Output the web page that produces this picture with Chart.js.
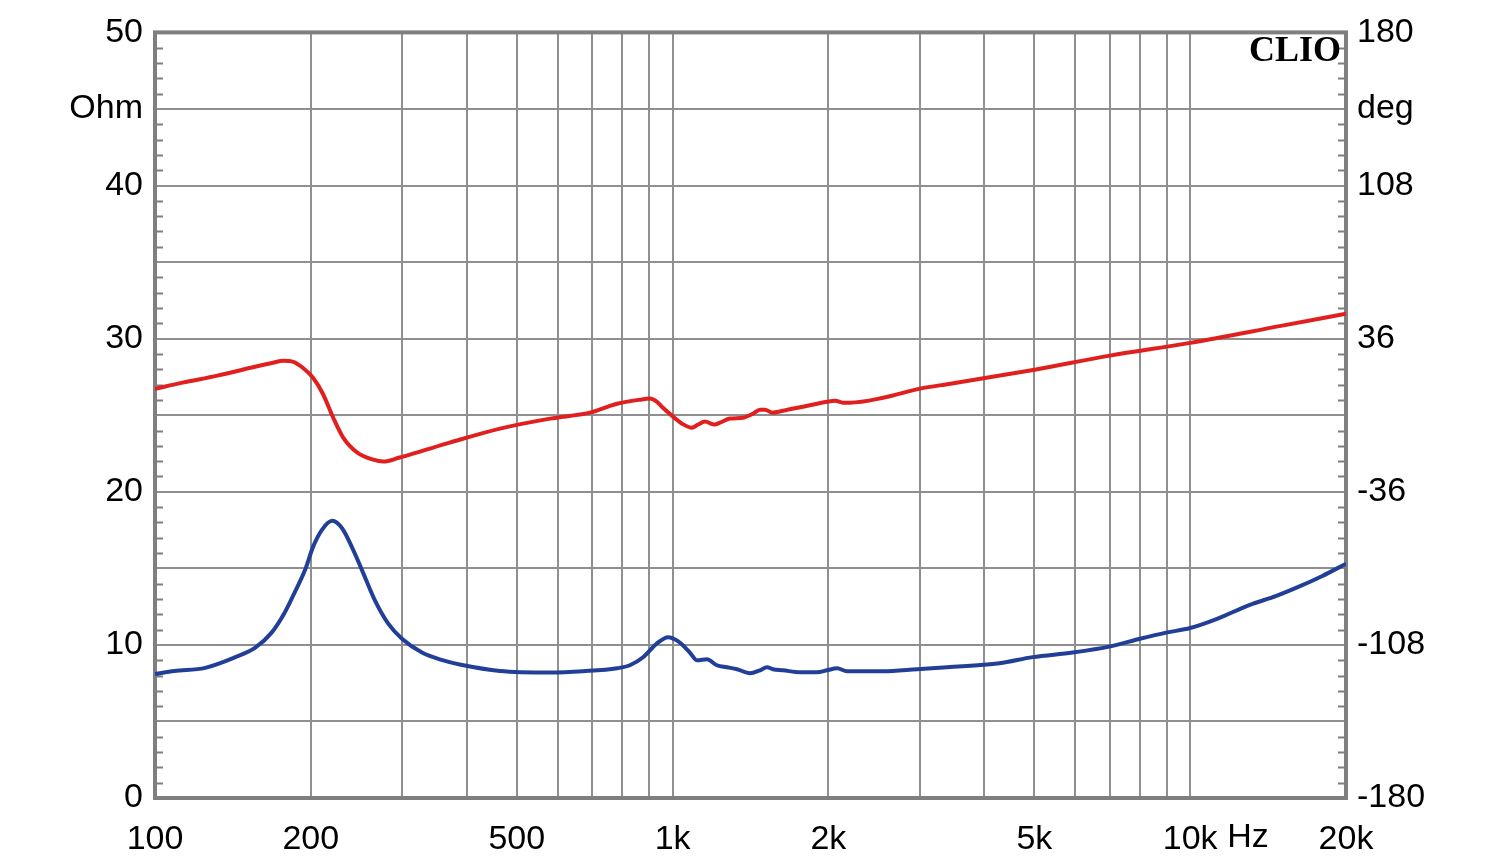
<!DOCTYPE html>
<html>
<head>
<meta charset="utf-8">
<script src="https://cdn.jsdelivr.net/npm/chart.js@4.4.1/dist/chart.umd.min.js"></script>
<style>
  html, body { margin:0; padding:0; background:#fff; }
  #wrap { width:1500px; height:864px; }
</style>
</head>
<body>
<div id="wrap"><canvas id="plot"></canvas></div>
<script>
// ---- datos (Hz / Ohm / grados) ----
const impFreq = [100,109,125,143,156,168,178,186,195,202,210,220,230,240,251,266,282,300,328,359,390,464,580,671,781,827,877,933,980,1024,1080,1115,1165,1218,1274,1332,1411,1475,1522,1563,1635,1763,1901,1988,2078,2173,2550,2967,3390,4280,4960,5930,7010,8000,8990,10000,11270,13000,14670,16220,18000,20000];
const impOhm  = [8.1,8.3,8.5,9.2,9.8,10.8,12.1,13.4,14.9,16.4,17.5,18.1,17.6,16.4,14.9,12.9,11.4,10.4,9.5,9.0,8.7,8.3,8.2,8.28,8.47,8.67,9.19,10.1,10.5,10.24,9.5,8.99,9.06,8.67,8.54,8.41,8.15,8.34,8.54,8.41,8.34,8.21,8.21,8.34,8.47,8.28,8.28,8.41,8.54,8.8,9.2,9.5,9.9,10.4,10.8,11.1,11.7,12.6,13.2,13.8,14.5,15.3];

const phaseFreq = [100,113,132,153,169,177,185,193,202,211,221,231,246,264,276,297,320,371,464,580,692,781,865,904,933,958,997,1043,1090,1120,1155,1205,1235,1291,1368,1430,1475,1509,1556,1635,1786,1988,2060,2134,2200,2550,3006,3443,5005,7000,10000,14970,20000];
const phaseDeg  = [12.4,15.3,18.6,22.3,24.7,25.6,25.1,22.3,17.6,10.1,-1.2,-10.5,-17.6,-20.9,-21.8,-19.9,-17.6,-12.9,-6.3,-1.6,1.2,5.4,7.3,7.8,6.3,3.5,-0.2,-4.0,-5.9,-4.4,-3.0,-4.4,-3.5,-1.6,-1.2,0.7,2.6,2.6,1.2,2.1,4.0,6.3,6.8,5.9,5.9,8.2,12.5,14.8,21.4,28.0,34.0,42.0,47.7];

const xGrid   = [100,200,300,400,500,600,700,800,900,1000,2000,3000,4000,5000,6000,7000,8000,9000,10000,20000];
const xLabels = {100:'100',200:'200',500:'500',1000:'1k',2000:'2k',5000:'5k',10000:'10k',20000:'20k'};
const ohmGrid   = [0,5,10,15,20,25,30,35,40,45,50];
const ohmLabels = {0:'0',10:'10',20:'20',30:'30',40:'40',45:'Ohm',50:'50'};
const degTicks  = [-180,-108,-36,36,108,144,180];
const degLabels = {'-180':'-180','-108':'-108','-36':'-36','36':'36','108':'108','144':'deg','180':'180'};

const FONT = { family:'"Liberation Sans", Arial, sans-serif', size:34 };
const XPAD = 21;
const GRID = '#8f8f8f', FRAME = '#7f7f7f';

const frame = {
  id:'frame',
  beforeDatasetsDraw(chart){
    const {ctx, chartArea:a, scales} = chart;
    ctx.save();
    ctx.strokeStyle = FRAME; ctx.lineWidth = 4;
    ctx.strokeRect(a.left, a.top, a.right-a.left, a.bottom-a.top);
    // marcas menores cada 1 Ohm, hacia adentro
    ctx.lineWidth = 2;
    for (let v=1; v<50; v++){
      if (v%5===0) continue;
      const y = Math.round(scales.y.getPixelForValue(v))+0.5;
      ctx.beginPath();
      ctx.moveTo(a.left, y); ctx.lineTo(a.left+8, y);
      ctx.moveTo(a.right-8, y); ctx.lineTo(a.right, y);
      ctx.stroke();
    }
    ctx.restore();
  },
  afterDraw(chart){
    const {ctx, chartArea:a, scales} = chart;
    ctx.save();
    ctx.fillStyle = '#000';
    ctx.font = 'bold 36px "Liberation Serif", "Times New Roman", serif';
    ctx.textAlign = 'right'; ctx.textBaseline = 'alphabetic';
    ctx.fillText('CLIO', a.right-5, a.top+29);
    // unidad Hz junto a 10k
    ctx.font = `${FONT.size}px ${FONT.family}`;
    ctx.textAlign = 'left'; ctx.textBaseline = 'middle';
    const x10k = scales.x.getPixelForValue(10000);
    ctx.fillText('Hz', x10k + 37, a.bottom + 40);
    ctx.restore();
  }
};

new Chart(document.getElementById('plot'), {
  type:'line',
  data:{ datasets:[
    { label:'Phase', data: phaseFreq.map((f,i)=>({x:f, y:phaseDeg[i]})), yAxisID:'y1',
      borderColor:'#e0201e', borderWidth:4, pointRadius:0, cubicInterpolationMode:'monotone' },
    { label:'Impedance', data: impFreq.map((f,i)=>({x:f, y:impOhm[i]})), yAxisID:'y',
      borderColor:'#213f96', borderWidth:4, pointRadius:0, cubicInterpolationMode:'monotone' }
  ]},
  options:{
    responsive:true, maintainAspectRatio:false, animation:false,
    layout:{ padding:{ top:31, left:0, right:0, bottom:0 } },
    plugins:{ legend:{display:false}, tooltip:{enabled:false} },
    scales:{
      x:{ type:'logarithmic', min:100, max:20000,
          afterBuildTicks: s => { s.ticks = xGrid.map(v=>({value:v})); },
          afterFit: s => { s.height = 66; },
          ticks:{ autoSkip:false, maxRotation:0, color:'#000', font:FONT, padding:XPAD,
                  callback: v => xLabels[v] || '' },
          grid:{ color:GRID, lineWidth:2, drawTicks:false },
          border:{ display:false } },
      y:{ position:'left', min:0, max:50,
          afterBuildTicks: s => { s.ticks = ohmGrid.map(v=>({value:v})); },
          afterFit: s => { s.width = 155; },
          ticks:{ autoSkip:false, color:'#000', font:FONT, padding:12,
                  callback: v => ohmLabels[v] ?? '' },
          grid:{ color:GRID, lineWidth:2, drawTicks:false },
          border:{ display:false } },
      y1:{ position:'right', min:-180, max:180,
          afterBuildTicks: s => { s.ticks = degTicks.map(v=>({value:v})); },
          afterFit: s => { s.width = 154; },
          ticks:{ autoSkip:false, color:'#000', font:FONT, padding:11,
                  callback: v => degLabels[String(v)] ?? '' },
          grid:{ drawOnChartArea:false, drawTicks:false },
          border:{ display:false } }
    }
  },
  plugins:[frame]
});
</script>
</body>
</html>
